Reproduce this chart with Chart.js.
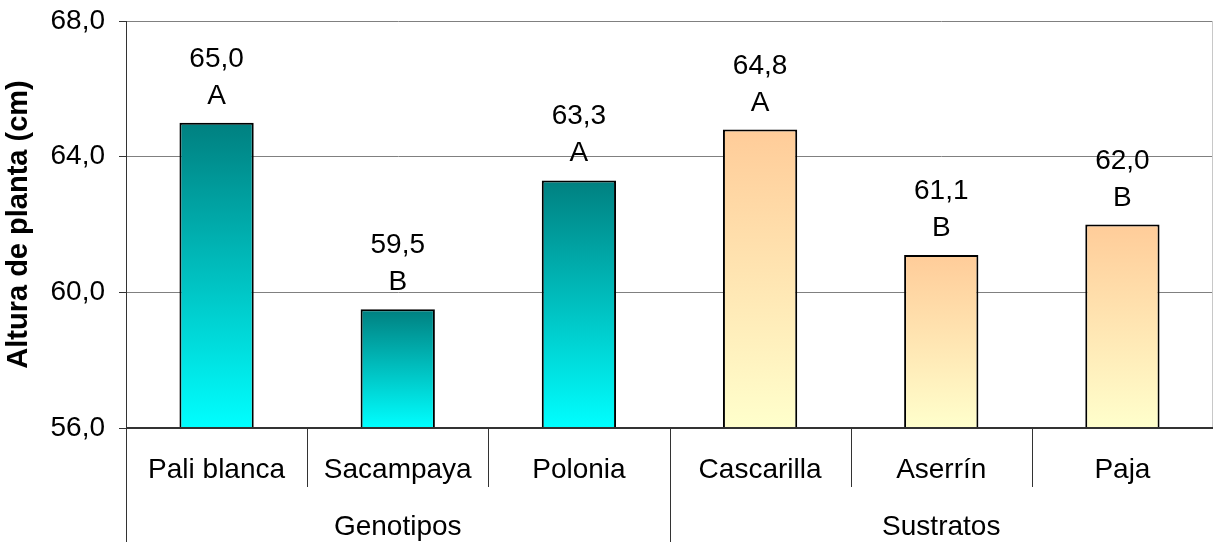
<!DOCTYPE html>
<html>
<head>
<meta charset="utf-8">
<script src="https://cdn.jsdelivr.net/npm/chart.js@4.4.0/dist/chart.umd.min.js"></script>
<style>
  html, body { margin: 0; padding: 0; background: #fff; }
  #wrap { width: 1214px; height: 542px; }
</style>
</head>
<body>
<div id="wrap"><canvas id="c" width="1214" height="542"></canvas></div>
<script>
// Plant height by genotype and by substrate
const categories = ['Pali blanca', 'Sacampaya', 'Polonia', 'Cascarilla', 'Aserrín', 'Paja'];
const groupNames = ['Genotipos', 'Sustratos'];
const groupSizes = [3, 3];
const heights = [65.0, 59.5, 63.3, 64.8, 61.1, 62.0];
const letters = ['A', 'B', 'A', 'A', 'B', 'B'];
const yMin = 56, yMax = 68, yStep = 4;
const yTitle = 'Altura de planta (cm)';

const FONT = "'Liberation Sans', Arial, sans-serif";
const fmt = v => v.toFixed(1).replace('.', ',');

// gradient colours (top, bottom) for each group
const groupGradients = [['#008080', '#00ffff'], ['#ffcc99', '#ffffcc']];
function groupOf(i) {
  let acc = 0;
  for (let g = 0; g < groupSizes.length; g++) {
    acc += groupSizes[g];
    if (i < acc) return g;
  }
  return groupSizes.length - 1;
}

function barGradient(ctx) {
  const chart = ctx.chart;
  if (!chart.chartArea || !chart.scales.y) return '#008080';
  const y = chart.scales.y;
  const top = y.getPixelForValue(ctx.raw);
  const bottom = y.getPixelForValue(yMin);
  const [c1, c2] = groupGradients[groupOf(ctx.dataIndex)];
  const g = chart.ctx.createLinearGradient(0, top, 0, bottom);
  g.addColorStop(0, c1);
  g.addColorStop(1, c2);
  return g;
}

// Axis frame, category/group labels and value labels
const decorations = {
  id: 'decorations',
  afterDatasetsDraw(chart) {
    const { ctx, chartArea: a, scales: { x, y } } = chart;
    const n = categories.length;
    const step = (x.getPixelForValue(1) - x.getPixelForValue(0));
    const edge = i => x.getPixelForValue(i) - step / 2;

    ctx.save();
    // right frame line
    ctx.strokeStyle = '#c8c8c8';
    ctx.lineWidth = 1;
    ctx.beginPath();
    ctx.moveTo(Math.round(a.right) - 0.5, a.top);
    ctx.lineTo(Math.round(a.right) - 0.5, a.bottom);
    ctx.stroke();

    // bottom axis line
    ctx.strokeStyle = '#333';
    ctx.lineWidth = 2;
    ctx.beginPath();
    ctx.moveTo(a.left, a.bottom);
    ctx.lineTo(a.right, a.bottom);
    ctx.stroke();

    // separators below the axis (long ones between groups)
    ctx.lineWidth = 1;
    ctx.strokeStyle = '#333';
    const groupStarts = [0];
    groupSizes.reduce((s, v) => { groupStarts.push(s + v); return s + v; }, 0);
    for (let i = 0; i < n; i++) {
      const xx = Math.round(edge(i)) + 0.5;
      const isGroup = groupStarts.includes(i);
      ctx.beginPath();
      ctx.moveTo(xx, a.bottom);
      ctx.lineTo(xx, isGroup ? chart.height : a.bottom + 59);
      ctx.stroke();
    }

    // category labels
    ctx.fillStyle = '#000';
    ctx.font = `28px ${FONT}`;
    ctx.textAlign = 'center';
    ctx.textBaseline = 'alphabetic';
    categories.forEach((c, i) => ctx.fillText(c, x.getPixelForValue(i), a.bottom + 50));

    // group labels
    let start = 0;
    groupNames.forEach((g, gi) => {
      const l = edge(start), r = edge(start + groupSizes[gi]);
      ctx.fillText(g, (l + r) / 2, a.bottom + 107);
      start += groupSizes[gi];
    });

    // value and letter labels above bars
    heights.forEach((v, i) => {
      const px = x.getPixelForValue(i);
      const top = y.getPixelForValue(v);
      ctx.fillText(letters[i], px, top - 19);
      ctx.fillText(fmt(v), px, top - 56);
    });
    ctx.restore();
  }
};

new Chart(document.getElementById('c'), {
  type: 'bar',
  data: {
    labels: categories,
    datasets: [{
      data: heights,
      backgroundColor: barGradient,
      borderColor: '#000',
      borderWidth: 2,
      borderSkipped: false,
      barPercentage: 0.41,
      categoryPercentage: 1
    }]
  },
  options: {
    responsive: false,
    animation: false,
    layout: { padding: { top: 21, right: 1, bottom: 114, left: 0 } },
    plugins: { legend: { display: false }, tooltip: { enabled: false } },
    scales: {
      x: { display: false, offset: true },
      y: {
        min: yMin,
        max: yMax,
        afterFit: s => { s.width = 126; s.paddingTop = 0; s.paddingBottom = 0; },
        ticks: {
          stepSize: yStep,
          color: '#000',
          font: { family: FONT, size: 28 },
          padding: 14,
          callback: v => fmt(v)
        },
        grid: {
          color: '#808080',
          lineWidth: 1,
          tickColor: '#333',
          tickLength: 7
        },
        border: { display: true, color: '#333', width: 1 },
        title: {
          display: true,
          text: yTitle,
          color: '#000',
          font: { family: FONT, size: 29, weight: 'bold' },
          padding: { top: 2, bottom: 0 }
        }
      }
    }
  },
  plugins: [decorations]
});
</script>
</body>
</html>
